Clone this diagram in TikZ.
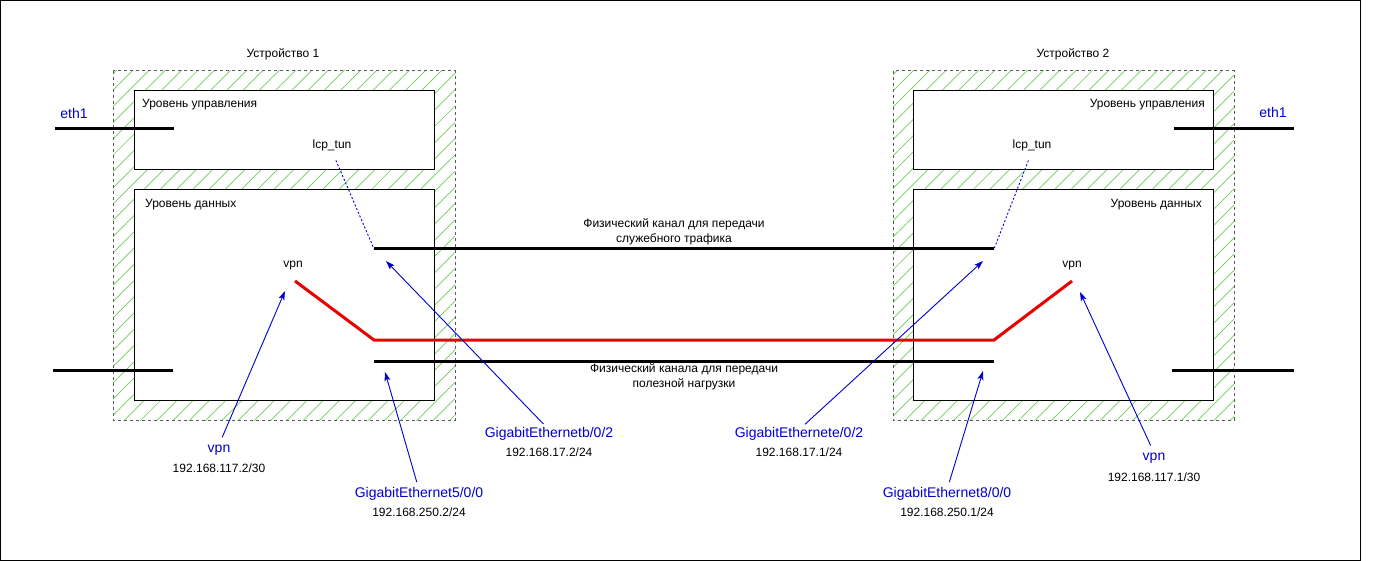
\documentclass[tikz,border=0pt]{standalone}
\usepackage{fontspec}
\setmainfont{Liberation Sans}
\usepackage{tikz}
\usetikzlibrary{arrows.meta}
\usetikzlibrary{patterns.meta}
\definecolor{hatchgreen}{RGB}{110,205,90}
\definecolor{linkblue}{RGB}{0,0,204}
\definecolor{vpnred}{RGB}{235,0,0}
\definecolor{framegray}{RGB}{90,90,90}
\tikzset{
  hatch/.style={pattern={Lines[angle=45,distance=11.5pt,line width=0.7pt]},pattern color=hatchgreen},
  devborder/.style={draw=framegray,line width=1pt,dash pattern=on 3pt off 3pt},
  plane/.style={draw=black,line width=1pt,fill=white},
  wire/.style={line width=3pt,black},
  vpnwire/.style={line width=3pt,vpnred,line join=miter},
  tunwire/.style={linkblue,line width=0.9pt,dash pattern=on 2pt off 2pt,shorten <=10pt},
  pointer/.style={linkblue,line width=0.9pt,-{Stealth[length=9pt,width=6pt,inset=2pt]},shorten <=8pt},
  txt/.style={font=\fontsize{12}{14}\selectfont,text height=0.75em,text depth=0.25em,inner sep=0pt},
  chan/.style={font=\fontsize{12}{15}\selectfont,align=center,inner sep=0pt},
  iflabel/.style={font=\fontsize{14}{16}\selectfont,text=linkblue,text height=0.75em,text depth=0.25em,inner sep=0pt},
  ipaddr/.style={font=\fontsize{12}{14}\selectfont,text height=0.75em,text depth=0.25em,inner sep=0pt}
}
\newcommand{\devbox}[4]{ \fill[hatch] ( #1 , #2 ) rectangle ( #3 , #4 ); \draw[devborder] ( #1 , #2 ) rectangle ( #3 , #4 );}
\newcommand{\planebox}[4]{ \draw[plane] ( #1 , #2 ) rectangle ( #3 , #4 );}

\begin{document}
\begin{tikzpicture}[x=1pt,y=-1pt]
        \useasboundingbox (0,0) rectangle (1375,561);
        \draw[line width=1pt] (0.5,0.5) rectangle (1360,560);
        % device1
        \devbox{113}{71}{455}{420}
        \planebox{134}{91}{434}{170}
        \planebox{134}{190}{434}{400}
        \node[txt] (dev1) at (283,55) {Устройство 1};
        \node[txt,anchor=west] (ctl1) at (142,105) {Уровень управления};
        \node[txt,anchor=west] (dat1) at (145,205) {Уровень данных};
        \node[txt] (lcp1) at (332,146) {lcp\_tun};
        \node[txt] (vpn1) at (293,265) {vpn};
        \node[iflabel] (eth1a) at (74,116) {eth1};
        % device2
        \devbox{893}{71}{1234}{420}
        \planebox{913}{91}{1213}{170}
        \planebox{913}{190}{1213}{400}
        \node[txt] (dev2) at (1073,55) {Устройство 2};
        \node[txt,anchor=east] (ctl2) at (1205,105) {Уровень управления};
        \node[txt,anchor=east] (dat2) at (1202,205) {Уровень данных};
        \node[txt] (lcp2) at (1032,146) {lcp\_tun};
        \node[txt] (vpn2) at (1072,265) {vpn};
        \node[iflabel] (eth1b) at (1273,115) {eth1};
        % ports
        \coordinate (eth1aw) at (55,129);
        \coordinate (eth1ae) at (174,129);
        \coordinate (eth1bw) at (1174,129);
        \coordinate (eth1be) at (1294,129);
        \coordinate (stubaw) at (53,370);
        \coordinate (stubae) at (173,370);
        \coordinate (stubbw) at (1172,370);
        \coordinate (stubbe) at (1294,370);
        \draw[wire] (eth1aw) -- (eth1ae);
        \draw[wire] (eth1bw) -- (eth1be);
        \draw[wire] (stubaw) -- (stubae);
        \draw[wire] (stubbw) -- (stubbe);
        % channels
        \coordinate (up1) at (374,249);
        \coordinate (up2) at (994,249);
        \coordinate (lo1) at (374,361);
        \coordinate (lo2) at (994,361);
        \draw[wire] (up1) -- (up2);
        \draw[wire] (lo1) -- (lo2);
        \node[chan] (chsrv) at (674,232) {Физический канал для передачи\\служебного трафика};
        \node[chan] (chdat) at (684,377) {Физический канала для передачи\\полезной нагрузки};
        \draw[tunwire] (lcp1.south) -- (up1);
        \draw[tunwire] (lcp2.south) -- (up2);
        % vpn
        \coordinate (red1) at (295,281);
        \coordinate (red2) at (374,340);
        \coordinate (red3) at (994,340);
        \coordinate (red4) at (1072,281);
        \draw[vpnwire] (red1) -- (red2) -- (red3) -- (red4);
        % interfaces
        \node[iflabel] (vpn1if) at (219,450) {vpn};
        \node[ipaddr] (vpn1ip) at (219,470) {192.168.117.2/30};
        \node[iflabel] (ge5if) at (419,495) {GigabitEthernet5/0/0};
        \node[ipaddr] (ge5ip) at (419,514) {192.168.250.2/24};
        \node[iflabel] (gebif) at (549,435) {GigabitEthernetb/0/2};
        \node[ipaddr] (gebip) at (549,454) {192.168.17.2/24};
        \node[iflabel] (geeif) at (799,435) {GigabitEthernete/0/2};
        \node[ipaddr] (geeip) at (799,454) {192.168.17.1/24};
        \node[iflabel] (ge8if) at (947,495) {GigabitEthernet8/0/0};
        \node[ipaddr] (ge8ip) at (947,514) {192.168.250.1/24};
        \node[iflabel] (vpn2if) at (1154,458) {vpn};
        \node[ipaddr] (vpn2ip) at (1154,479) {192.168.117.1/30};
        \coordinate (vpn1tip) at (285,291);
        \coordinate (ge5tip) at (385,372);
        \coordinate (gebtip) at (386,261);
        \coordinate (geetip) at (983,261);
        \coordinate (ge8tip) at (983,371);
        \coordinate (vpn2tip) at (1080,292);
        \draw[pointer] (vpn1if.north) -- (vpn1tip);
        \draw[pointer] (ge5if.north) -- (ge5tip);
        \draw[pointer] (gebif.north) -- (gebtip);
        \draw[pointer] (geeif.north) -- (geetip);
        \draw[pointer] (ge8if.north) -- (ge8tip);
        \draw[pointer] (vpn2if.north) -- (vpn2tip);
    \end{tikzpicture}
\end{document}
